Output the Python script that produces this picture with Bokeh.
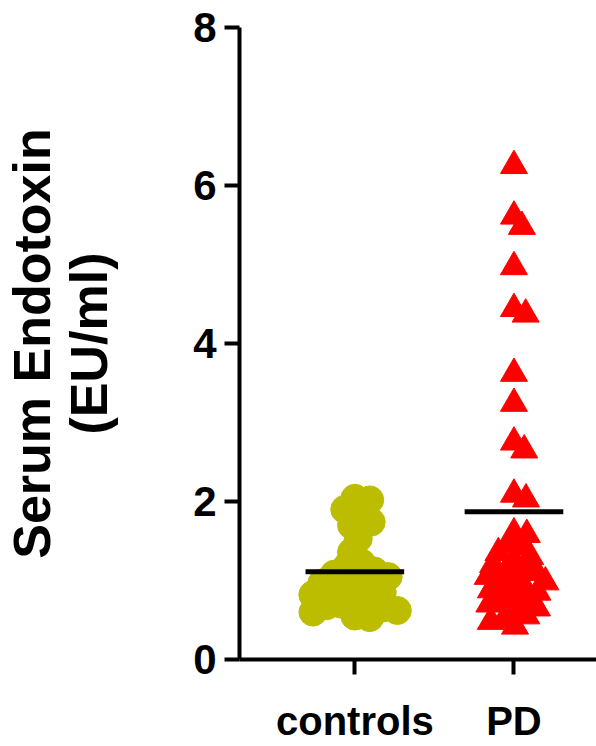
import math
from bokeh.plotting import figure
from bokeh.models import Range1d, FixedTicker, ColumnDataSource
from bokeh.embed import file_html
from bokeh.resources import INLINE

# ---- data ----
groups = ["controls", "PD"]
controls = [2.04, 2.02, 1.90, 1.86, 1.74, 1.70, 1.53, 1.36,
            1.22, 1.18, 1.12, 1.08, 1.05, 1.00, 0.97, 0.93, 0.90, 0.85,
            0.82, 0.78, 0.74, 0.70, 0.68, 0.65, 0.62, 0.60, 0.55, 0.53]
pd_vals = [6.25, 5.61, 5.48, 4.97, 4.44, 4.37, 3.62, 3.24, 2.75, 2.65, 2.09, 2.03,
           1.60, 1.58, 1.45, 1.42, 1.35, 1.30, 1.25, 1.20, 1.15, 1.12, 1.10, 1.05,
           1.00, 0.98, 0.95, 0.90, 0.88, 0.85, 0.80, 0.75, 0.72, 0.70, 0.65, 0.60,
           0.55, 0.50, 0.48, 0.42]
y_ticks = [0, 2, 4, 6, 8]

# ---- layout constants ----
W, H = 596, 746
BL, BR, BT, BB = 237, 0, 27, 87
X0 = 0.275
PX_PER_X = 160.0
PX_PER_Y = (H - BT - BB) / 8.0


def swarm(vals, d_px):
    """classic beeswarm: offsets (in x data units) that avoid overlap in pixel space"""
    placed = []
    offs = [0.0] * len(vals)
    order = sorted(range(len(vals)), key=lambda i: -vals[i])
    for i in order:
        y = vals[i] * PX_PER_Y
        cands = [0.0]
        for px, py in placed:
            dy = y - py
            if abs(dy) < d_px:
                dx = math.sqrt(d_px ** 2 - dy ** 2)
                cands += [px + dx, px - dx]
        cands.sort(key=abs)
        chosen = 0.0
        for c in cands:
            if all((c - px) ** 2 + (y - py) ** 2 >= d_px ** 2 - 1e-6 for px, py in placed):
                chosen = c
                break
        placed.append((chosen, y))
        offs[i] = chosen / PX_PER_X
    return offs


p = figure(width=W, height=H, output_backend="svg", toolbar_location=None,
           x_range=Range1d(X0, X0 + (W - BL - BR) / PX_PER_X), y_range=Range1d(0, 8),
           min_border_left=BL, min_border_right=BR, min_border_top=BT, min_border_bottom=BB)
p.outline_line_color = None
p.xgrid.visible = False
p.ygrid.visible = False
p.background_fill_color = "white"
p.border_fill_color = "white"

c_off = swarm(controls, 15)
p_off = swarm(pd_vals, 13)

src_c = ColumnDataSource(dict(x=[1 + o for o in c_off], y=controls))
src_p = ColumnDataSource(dict(x=[2 + o for o in p_off], y=pd_vals))

p.scatter("x", "y", source=src_c, marker="circle", size=28,
          fill_color="#BDBD00", line_color="#BDBD00")
p.scatter("x", "y", source=src_p, marker="triangle", size=27,
          fill_color="#FF0000", line_color="#FF0000")

means = [sum(controls) / len(controls), sum(pd_vals) / len(pd_vals)]
half = 0.31
p.segment(x0=[1 - half, 2 - half], x1=[1 + half, 2 + half], y0=means, y1=means,
          line_color="black", line_width=5)

FONT = "Liberation Sans"
for ax in (p.xaxis[0], p.yaxis[0]):
    ax.axis_line_width = 4
    ax.axis_line_color = "black"
    ax.major_tick_line_width = 4
    ax.major_tick_line_color = "black"
    ax.major_tick_in = 0
    ax.major_tick_out = 15
    ax.minor_tick_line_color = None
    ax.major_label_text_font = FONT
    ax.major_label_text_font_style = "bold"
    ax.major_label_text_color = "black"

p.xaxis.major_label_text_font_size = "40px"
p.xaxis.ticker = FixedTicker(ticks=[1, 2])
p.xaxis.major_label_overrides = {i + 1: g for i, g in enumerate(groups)}
p.xaxis.major_label_standoff = 24

p.yaxis.major_label_text_font_size = "42px"
p.yaxis.ticker = FixedTicker(ticks=y_ticks)
p.yaxis.major_label_standoff = 8
p.yaxis.axis_label = "Serum Endotoxin\n(EU/ml)"
p.yaxis.axis_label_text_font = FONT
p.yaxis.axis_label_text_font_style = "bold"
p.yaxis.axis_label_text_font_size = "52px"
p.yaxis.axis_label_text_line_height = 0.98
p.yaxis.axis_label_text_color = "black"
p.yaxis.axis_label_standoff = 72

open("out.html", "w").write(file_html(p, INLINE))
